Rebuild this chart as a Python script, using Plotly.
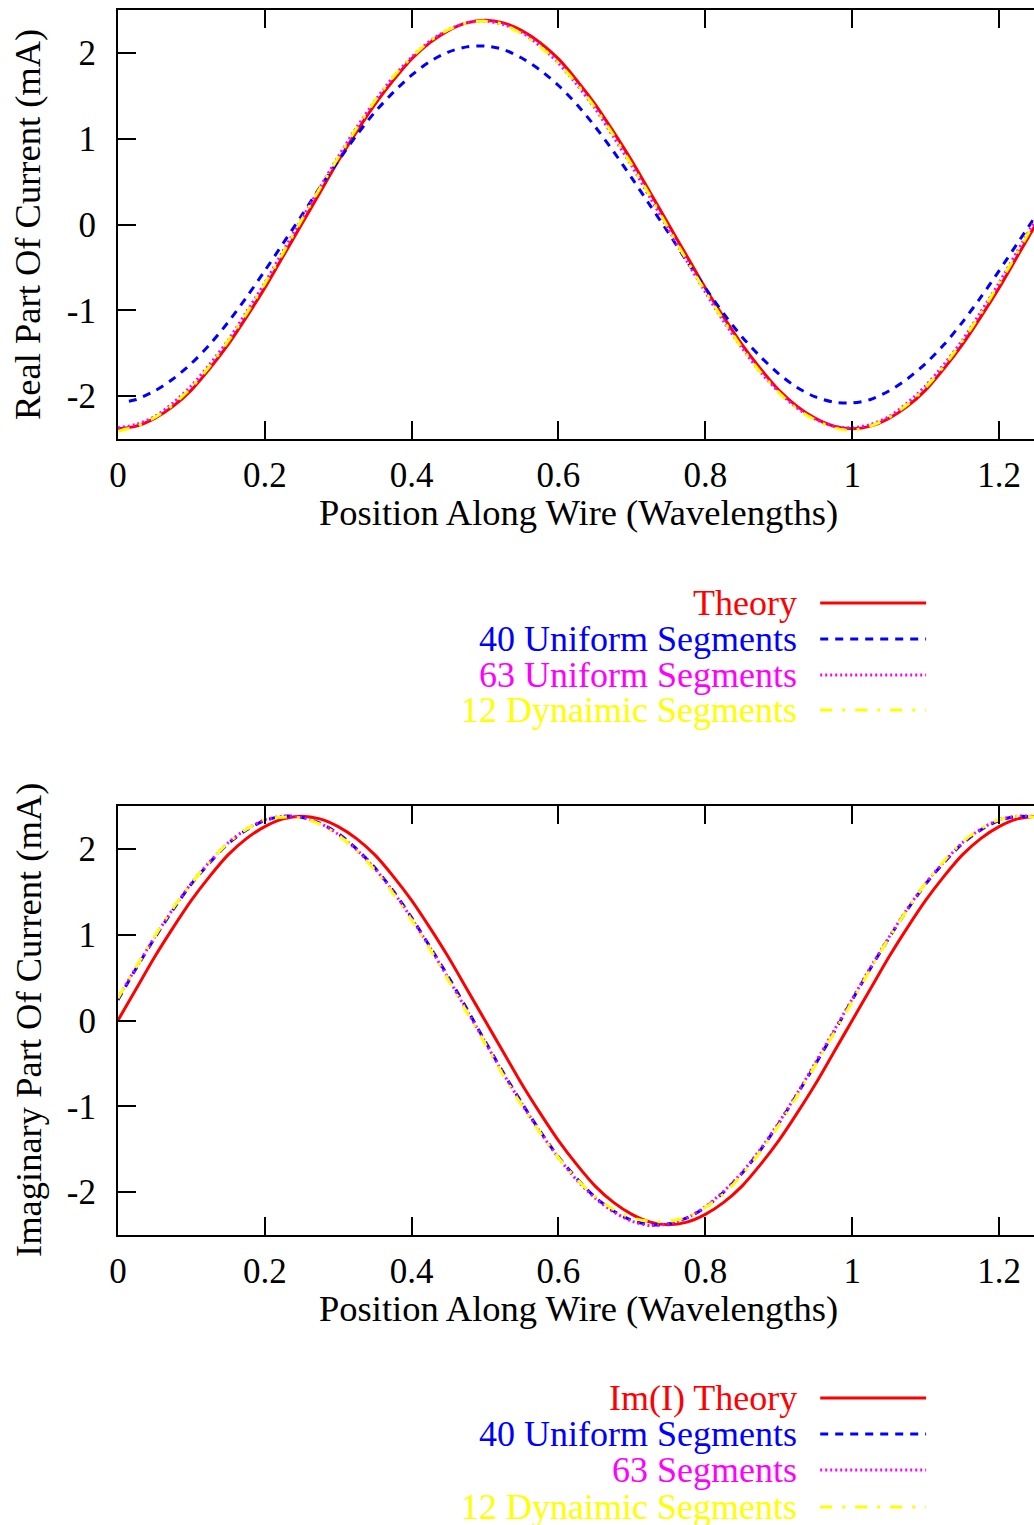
import plotly.graph_objects as go

W, H = 1034, 1525

# ---------------- data ----------------
X = [0, 0.025, 0.05, 0.075, 0.1, 0.125, 0.15, 0.175, 0.2, 0.225, 0.25,
     0.275, 0.3, 0.325, 0.35, 0.375, 0.4, 0.425, 0.45, 0.475, 0.5,
     0.525, 0.55, 0.575, 0.6, 0.625, 0.65, 0.675, 0.7, 0.725, 0.75,
     0.775, 0.8, 0.825, 0.85, 0.875, 0.9, 0.925, 0.95, 0.975, 1.0,
     1.025, 1.05, 1.075, 1.1, 1.125, 1.15, 1.175, 1.2, 1.225, 1.25]
X_40_re = [0.015] + X[1:]

re_theory = [-2.38, -2.35, -2.26, -2.12, -1.93, -1.68, -1.40, -1.08, -0.74, -0.37, 0.00,
             0.37, 0.74, 1.08, 1.40, 1.68, 1.93, 2.12, 2.26, 2.35, 2.38,
             2.35, 2.26, 2.12, 1.93, 1.68, 1.40, 1.08, 0.74, 0.37, 0.00,
             -0.37, -0.74, -1.08, -1.40, -1.68, -1.93, -2.12, -2.26, -2.35, -2.38,
             -2.35, -2.26, -2.12, -1.93, -1.68, -1.40, -1.08, -0.74, -0.37, 0.00]
re_40 = [-2.06, -2.04, -1.94, -1.80, -1.62, -1.40, -1.14, -0.85, -0.54, -0.22, 0.10,
         0.43, 0.74, 1.04, 1.31, 1.54, 1.74, 1.90, 2.01, 2.07, 2.08,
         2.04, 1.94, 1.80, 1.62, 1.40, 1.14, 0.85, 0.54, 0.22, -0.10,
         -0.43, -0.74, -1.04, -1.31, -1.54, -1.74, -1.90, -2.01, -2.07, -2.08,
         -2.04, -1.94, -1.80, -1.62, -1.40, -1.14, -0.85, -0.54, -0.22, 0.10]
re_63 = [-2.37, -2.33, -2.24, -2.08, -1.88, -1.63, -1.35, -1.02, -0.68, -0.31, 0.06,
         0.43, 0.79, 1.13, 1.44, 1.72, 1.95, 2.14, 2.27, 2.35, 2.37,
         2.33, 2.24, 2.08, 1.88, 1.63, 1.35, 1.02, 0.68, 0.31, -0.06,
         -0.43, -0.79, -1.13, -1.44, -1.72, -1.95, -2.14, -2.27, -2.35, -2.37,
         -2.33, -2.24, -2.08, -1.88, -1.63, -1.35, -1.02, -0.68, -0.31, 0.06]
re_12 = [-2.41, -2.35, -2.25, -2.10, -1.90, -1.65, -1.36, -1.04, -0.69, -0.33, 0.05,
         0.42, 0.78, 1.12, 1.44, 1.72, 1.95, 2.14, 2.27, 2.35, 2.37,
         2.33, 2.22, 2.07, 1.88, 1.64, 1.36, 1.04, 0.69, 0.33, -0.05,
         -0.42, -0.78, -1.12, -1.44, -1.72, -1.96, -2.15, -2.28, -2.37, -2.40,
         -2.35, -2.25, -2.10, -1.90, -1.65, -1.36, -1.04, -0.69, -0.33, 0.05]

im_theory = [0.00, 0.37, 0.74, 1.08, 1.40, 1.68, 1.93, 2.12, 2.26, 2.35, 2.38,
             2.35, 2.26, 2.12, 1.93, 1.68, 1.40, 1.08, 0.74, 0.37, 0.00,
             -0.37, -0.74, -1.08, -1.40, -1.68, -1.93, -2.12, -2.26, -2.35, -2.38,
             -2.35, -2.26, -2.12, -1.93, -1.68, -1.40, -1.08, -0.74, -0.37, 0.00,
             0.37, 0.74, 1.08, 1.40, 1.68, 1.93, 2.12, 2.26, 2.35, 2.38]
im_40 = [0.24, 0.61, 0.96, 1.29, 1.59, 1.84, 2.06, 2.22, 2.33, 2.38, 2.37,
         2.30, 2.18, 2.00, 1.78, 1.51, 1.20, 0.86, 0.51, 0.14, -0.24,
         -0.61, -0.96, -1.29, -1.59, -1.84, -2.06, -2.22, -2.33, -2.38, -2.37,
         -2.30, -2.18, -2.00, -1.78, -1.51, -1.20, -0.86, -0.51, -0.14, 0.24,
         0.61, 0.96, 1.29, 1.59, 1.84, 2.06, 2.22, 2.33, 2.38, 2.37]
im_63 = [0.26, 0.62, 0.97, 1.30, 1.60, 1.85, 2.07, 2.23, 2.34, 2.38, 2.37,
         2.30, 2.17, 1.99, 1.77, 1.50, 1.19, 0.85, 0.49, 0.12, -0.25,
         -0.62, -0.97, -1.30, -1.60, -1.86, -2.07, -2.23, -2.34, -2.39, -2.37,
         -2.30, -2.17, -1.99, -1.77, -1.50, -1.19, -0.85, -0.49, -0.12, 0.25,
         0.62, 0.97, 1.30, 1.60, 1.85, 2.07, 2.23, 2.34, 2.38, 2.38]
im_12 = [0.26, 0.63, 0.98, 1.31, 1.60, 1.85, 2.07, 2.23, 2.34, 2.37, 2.36,
         2.29, 2.16, 1.98, 1.75, 1.48, 1.17, 0.83, 0.47, 0.10, -0.27,
         -0.64, -0.99, -1.31, -1.60, -1.85, -2.05, -2.20, -2.30, -2.34, -2.34,
         -2.29, -2.18, -2.02, -1.80, -1.53, -1.22, -0.88, -0.52, -0.15, 0.22,
         0.60, 0.96, 1.29, 1.60, 1.86, 2.08, 2.24, 2.34, 2.38, 2.37]

x_ticks = [0, 0.2, 0.4, 0.6, 0.8, 1.0, 1.2]
x_tick_text = ["0", "0.2", "0.4", "0.6", "0.8", "1", "1.2"]
y_ticks = [-2, -1, 0, 1, 2]
y_tick_text = ["-2", "-1", "0", "1", "2"]

top_names = ["Theory", "40 Uniform Segments", "63 Uniform Segments", "12 Dynaimic Segments"]
bot_names = ["Im(I) Theory", "40 Uniform Segments", "63 Segments", "12 Dynaimic Segments"]
colors = ["#ff0000", "#0000ff", "#ff00ff", "#ffff00"]
dashes = ["solid", "8px,7px", "2px,3px", "12px,10px,3px,10px"]

# ---------------- layout helpers ----------------
FONT = "Liberation Serif, Times New Roman, serif"
FS_TICK = 35
FS_TITLE = 36.5
FS_KEY = 36
LW = 3
PL, PR = 117, 1034
TOP_Y = (10, 439)
BOT_Y = (806, 1235)
XMAX = (PR - PL) / 735.0

# observed mapping of paper x to screen pixels
X0, XW = 8, 1026


def px(x):
    return (x - X0) / XW


def py(y):
    return 1 - y / H


fig = go.Figure()

top_series = [(X, re_theory), (X_40_re, re_40), (X, re_63), (X, re_12)]
bot_series = [(X, im_theory), (X, im_40), (X, im_63), (X, im_12)]

for (xs, ys), name, c, d in zip(top_series, top_names, colors, dashes):
    fig.add_trace(go.Scatter(x=xs, y=ys, mode="lines", name=name, showlegend=False,
                             line=dict(color=c, width=LW, dash=d, shape="spline", smoothing=0.8),
                             xaxis="x", yaxis="y"))
for (xs, ys), name, c, d in zip(bot_series, bot_names, colors, dashes):
    fig.add_trace(go.Scatter(x=xs, y=ys, mode="lines", name=name, showlegend=False,
                             line=dict(color=c, width=LW, dash=d, shape="spline", smoothing=0.8),
                             xaxis="x2", yaxis="y2"))

xcommon = dict(range=[0, XMAX], tickvals=x_ticks, ticktext=x_tick_text,
               ticks="inside", ticklen=18, tickwidth=2, tickcolor="black",
               showline=True, linewidth=2, linecolor="black", mirror="ticks",
               showgrid=False, zeroline=False, domain=[px(PL), 1],
               tickfont=dict(family=FONT, size=FS_TICK, color="black"),
               ticklabelstandoff=4)
ycommon = dict(range=[-2.5, 2.5], tickvals=y_ticks, ticktext=y_tick_text,
               ticks="inside", ticklen=18, tickwidth=2, tickcolor="black",
               showline=True, linewidth=2, linecolor="black",
               showgrid=False, zeroline=False,
               tickfont=dict(family=FONT, size=FS_TICK, color="black"),
               ticklabelstandoff=13)
yright = dict(range=[-2.5, 2.5], tickvals=y_ticks, showticklabels=False,
              ticks="inside", ticklen=18, tickwidth=2, tickcolor="black",
              showline=False, showgrid=False, zeroline=False, side="right")

fig.update_layout(
    width=W, height=H,
    margin=dict(l=0, r=0, t=0, b=0),
    paper_bgcolor="white", plot_bgcolor="white",
    font=dict(family=FONT, size=FS_TICK, color="black"),
    xaxis=dict(xcommon, anchor="y"),
    yaxis=dict(ycommon, anchor="x", domain=[py(TOP_Y[1]), py(TOP_Y[0])]),
    xaxis2=dict(xcommon, anchor="y2"),
    yaxis2=dict(ycommon, anchor="x2", domain=[py(BOT_Y[1]), py(BOT_Y[0])]),
    yaxis3=dict(yright, overlaying="y", anchor="x", domain=[py(TOP_Y[1]), py(TOP_Y[0])]),
    yaxis4=dict(yright, overlaying="y2", anchor="x2", domain=[py(BOT_Y[1]), py(BOT_Y[0])]),
    showlegend=False,
)

ann = []
shapes = []
# axis titles
for yc, title in [(512, "Position Along Wire (Wavelengths)"), (1308, "Position Along Wire (Wavelengths)")]:
    ann.append(dict(x=px(578), y=py(yc), xref="paper", yref="paper", text=title,
                    showarrow=False, xanchor="center", yanchor="middle",
                    font=dict(family=FONT, size=FS_TITLE, color="black")))
for yc, title in [(224, "Real Part Of Current (mA)"), (1020, "Imaginary Part Of Current (mA)")]:
    ann.append(dict(x=px(27), y=py(yc), xref="paper", yref="paper", text=title,
                    showarrow=False, xanchor="center", yanchor="middle", textangle=-90,
                    font=dict(family=FONT, size=FS_TITLE, color="black")))

# manual gnuplot-style keys
top_rows = [603, 639, 675, 710]
bot_rows = [1398, 1434, 1470, 1507]
for rows, names in [(top_rows, top_names), (bot_rows, bot_names)]:
    for yc, name, c, d in zip(rows, names, colors, dashes):
        ann.append(dict(x=px(799), y=py(yc), xref="paper", yref="paper", text=name,
                        showarrow=False, xanchor="right", yanchor="middle",
                        font=dict(family=FONT, size=FS_KEY, color=c)))
        shapes.append(dict(type="line", xref="paper", yref="paper",
                           x0=px(820), x1=px(926), y0=py(yc), y1=py(yc),
                           line=dict(color=c, width=LW, dash=d)))

fig.update_layout(annotations=ann, shapes=shapes)

fig.write_html("out.html")
